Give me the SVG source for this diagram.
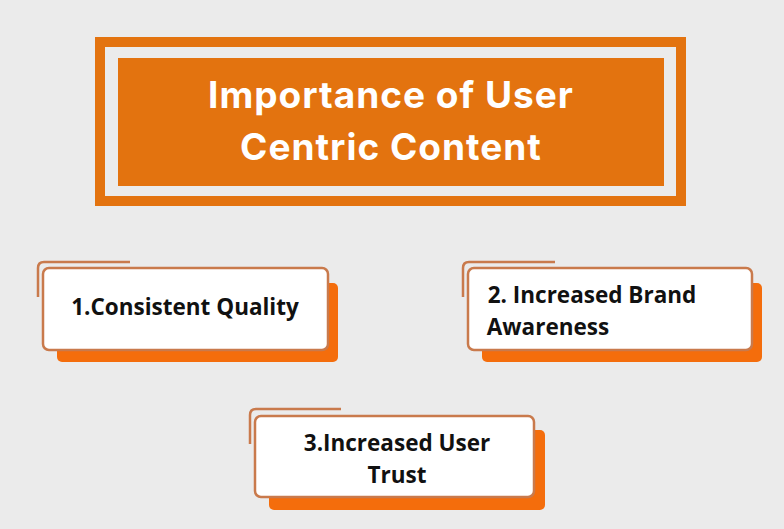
<svg xmlns="http://www.w3.org/2000/svg" width="784" height="529" viewBox="0 0 784 529">
<style>
.sh{fill:#f46d0c}
.card{fill:#fff;stroke:#c97a4c;stroke-width:2.5}
.br{fill:none;stroke:#c97a4c;stroke-width:2.5}
.t{font-family:"Open Sans",sans-serif;font-weight:bold;font-size:22.5px;fill:#111;text-anchor:middle}
.h{font-family:Inter,"Open Sans",sans-serif;font-weight:bold;font-size:37px;letter-spacing:1px;fill:#fff;text-anchor:middle}
</style>
<rect width="784" height="529" fill="#ebebeb"/>
<g id="title">
<rect x="95" y="37" width="591" height="169" fill="#e3730f"/>
<rect x="105" y="47" width="571" height="149" fill="#ebebeb"/>
<rect x="118" y="58" width="546" height="128" fill="#e3730f"/>
<text class="h" x="391" y="108">Importance of User</text>
<text class="h" x="391" y="160">Centric Content</text>
</g>
<g id="card1">
<rect class="sh" x="57" y="283" width="281" height="79" rx="5"/>
<path class="br" d="M130 262 H44 Q38 262 38 268 V297"/>
<rect class="card" x="43" y="268" width="285" height="82" rx="6"/>
<text class="t" x="185" y="315">1.Consistent Quality</text>
</g>
<g id="card2">
<rect class="sh" x="482" y="283" width="280" height="79" rx="5"/>
<path class="br" d="M555 262 H469 Q463 262 463 268 V297"/>
<rect class="card" x="468" y="268" width="284" height="82" rx="6"/>
<text class="t" x="592" y="303">2. Increased Brand</text>
<text class="t" x="548" y="335">Awareness</text>
</g>
<g id="card3">
<rect class="sh" x="269" y="430" width="276" height="80" rx="5"/>
<path class="br" d="M341 409 H256 Q250 409 250 415 V444"/>
<rect class="card" x="255" y="416" width="279" height="81" rx="6"/>
<text class="t" x="397" y="451">3.Increased User</text>
<text class="t" x="397" y="483">Trust</text>
</g>
<g id="connectors"/>
</svg>
